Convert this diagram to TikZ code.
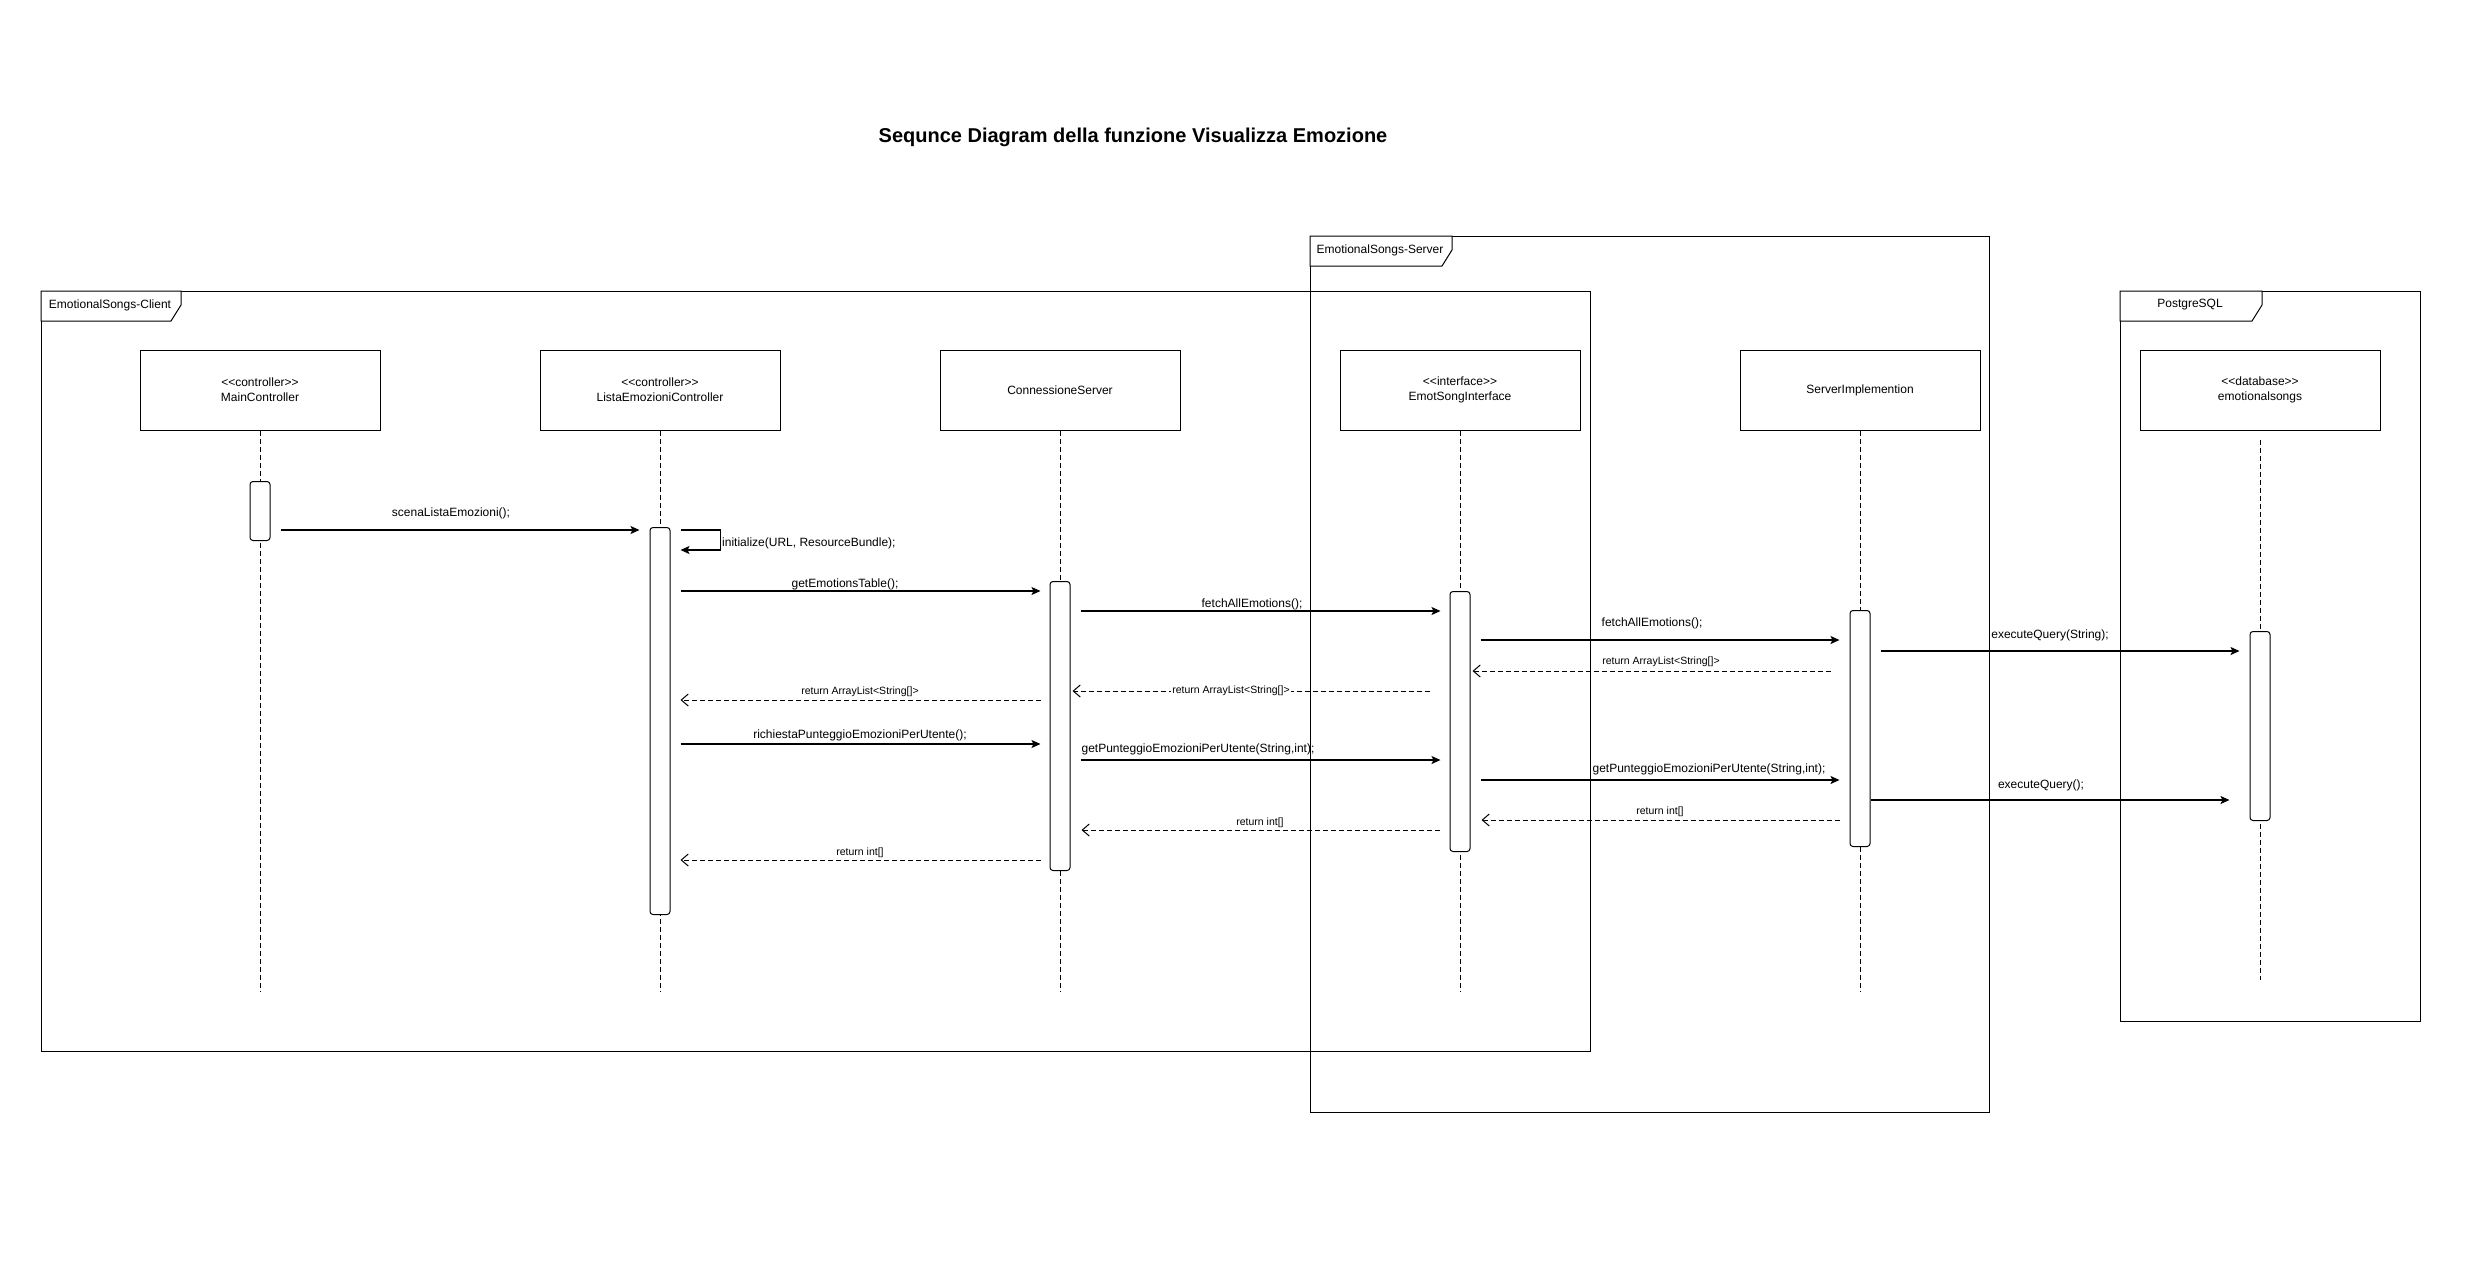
\documentclass[tikz,border=0pt]{standalone}
\usepackage{fontspec}
\setmainfont{Liberation Sans}
\usetikzlibrary{arrows.meta}
\begin{document}
\begin{tikzpicture}[x=1pt,y=-1pt,
  frameline/.style={draw, line width=1pt},
  tabshape/.style={draw, line width=1pt, fill=white},
  framelabel/.style={font=\fontsize{12}{14}\selectfont, inner sep=0pt},
  lifebox/.style={draw, line width=1pt, fill=white, minimum width=240pt, minimum height=80pt,
    align=center, font=\fontsize{12}{15}\selectfont, inner sep=0pt},
  actbox/.style={draw, line width=1pt, rounded corners=3pt, fill=white, minimum width=20pt, inner sep=0pt},
  lifeline/.style={line width=0.8pt, dash pattern=on 5pt off 3pt},
  call/.style={line width=1.1pt, -{Stealth[length=9pt,width=8pt,inset=2pt]}},
  reply/.style={line width=1pt, dash pattern=on 5pt off 3pt, -{Straight Barb[length=7pt,width=12pt]}},
  msg/.style={font=\fontsize{12}{14}\selectfont, inner sep=1pt},
  rmsg/.style={font=\fontsize{10.5}{12}\selectfont, inner sep=1pt},
]
\path[use as bounding box, fill=white] (0,0) rectangle (2466,1286);

% title
\node[font=\bfseries\fontsize{20}{24}\selectfont] (title) at (1133,137)
  {Sequnce Diagram della funzione Visualizza Emozione};

% frames
\draw[frameline] (41,291) rectangle (1590,1051);
\draw[frameline] (1310,236) rectangle (1989,1112);
\draw[frameline] (2120,291) rectangle (2420,1021);
\draw[tabshape] (41,291) -- (181,291) -- (181,305) -- (171,321) -- (41,321) -- cycle;
\draw[tabshape] (1310,236) -- (1452,236) -- (1452,250) -- (1442,266) -- (1310,266) -- cycle;
\draw[tabshape] (2120,291) -- (2262,291) -- (2262,305) -- (2252,321) -- (2120,321) -- cycle;
\node[framelabel] (fclient) at (110,305) {EmotionalSongs-Client};
\node[framelabel] (fserver) at (1380,250) {EmotionalSongs-Server};
\node[framelabel] (fdb) at (2190,305) {PostgreSQL};

% lifeline heads
\node[lifebox] (mc) at (260,390)  {<{}<controller>{}>\\MainController};
\node[lifebox] (lc) at (660,390)  {<{}<controller>{}>\\ListaEmozioniController};
\node[lifebox] (cs) at (1060,390) {ConnessioneServer};
\node[lifebox] (ei) at (1460,390) {<{}<interface>{}>\\EmotSongInterface};
\node[lifebox] (si) at (1860,390) {ServerImplemention};
\node[lifebox] (db) at (2260,390) {<{}<database>{}>\\emotionalsongs};

% lifelines
\coordinate (lend) at (0,991);
\coordinate (dbend) at (0,980);
\draw[lifeline] (mc.south) -- (mc.south |- lend);
\draw[lifeline] (lc.south) -- (lc.south |- lend);
\draw[lifeline] (cs.south) -- (cs.south |- lend);
\draw[lifeline] (ei.south) -- (ei.south |- lend);
\draw[lifeline] (si.south) -- (si.south |- lend);
\draw[lifeline] ([yshift=-9pt]db.south) -- (db.south |- dbend);

% activations
\node[actbox, anchor=north, minimum height=59pt]  (amc) at (260,481) {};
\node[actbox, anchor=north, minimum height=387pt] (alc) at (660,527) {};
\node[actbox, anchor=north, minimum height=289pt] (acs) at (1060,581) {};
\node[actbox, anchor=north, minimum height=260pt] (aei) at (1460,591) {};
\node[actbox, anchor=north, minimum height=236pt] (asi) at (1860,610) {};
\node[actbox, anchor=north, minimum height=189pt] (adb) at (2260,631) {};

% message rows
\coordinate (y1) at (0,530);
\coordinate (y2) at (0,550);
\coordinate (y3) at (0,591);
\coordinate (y4) at (0,611);
\coordinate (y5) at (0,640);
\coordinate (y6) at (0,651);
\coordinate (y7) at (0,671);
\coordinate (y8) at (0,691);
\coordinate (y9) at (0,700);
\coordinate (y10) at (0,744);
\coordinate (y11) at (0,760);
\coordinate (y12) at (0,780);
\coordinate (y13) at (0,800);
\coordinate (y14) at (0,820);
\coordinate (y15) at (0,830);
\coordinate (y16) at (0,860);

% messages
\draw[call] ([xshift=10pt]amc.east |- y1) -- ([xshift=-10pt]alc.west |- y1);
\node[msg] (m1) at (451,513) {scenaListaEmozioni();};

\draw[call] ([xshift=10pt]alc.east |- y1) -- ([xshift=50pt]alc.east |- y1)
  -- ([xshift=50pt]alc.east |- y2) -- ([xshift=10pt]alc.east |- y2);
\node[msg, anchor=west] (m2) at (721,543) {initialize(URL, ResourceBundle);};

\draw[call] ([xshift=10pt]alc.east |- y3) -- ([xshift=-9pt]acs.west |- y3);
\node[msg] (m3) at (845,584) {getEmotionsTable();};

\draw[call] ([xshift=10pt]acs.east |- y4) -- ([xshift=-9pt]aei.west |- y4);
\node[msg] (m4) at (1252,604) {fetchAllEmotions();};

\draw[call] ([xshift=10pt]aei.east |- y5) -- ([xshift=-10pt]asi.west |- y5);
\node[msg] (m5) at (1652,623) {fetchAllEmotions();};

\draw[call] ([xshift=10pt]asi.east |- y6) -- ([xshift=-10pt]adb.west |- y6);
\node[msg] (m6) at (2050,635) {executeQuery(String);};

\draw[reply] ([xshift=-19pt]asi.west |- y7) -- ([xshift=2pt]aei.east |- y7);
\node[rmsg] (m7) at (1661,662) {return ArrayList<String[]>};

\draw[reply] ([xshift=-20pt]aei.west |- y8) -- ([xshift=2pt]acs.east |- y8);
\node[rmsg, fill=white] (m8) at (1231,691) {return ArrayList<String[]>};

\draw[reply] ([xshift=-9pt]acs.west |- y9) -- ([xshift=10pt]alc.east |- y9);
\node[rmsg] (m9) at (860,692) {return ArrayList<String[]>};

\draw[call] ([xshift=10pt]alc.east |- y10) -- ([xshift=-9pt]acs.west |- y10);
\node[msg] (m10) at (860,735) {richiestaPunteggioEmozioniPerUtente();};

\draw[call] ([xshift=10pt]acs.east |- y11) -- ([xshift=-9pt]aei.west |- y11);
\node[msg] (m11) at (1198,749) {getPunteggioEmozioniPerUtente(String,int);};

\draw[call] ([xshift=10pt]aei.east |- y12) -- ([xshift=-10pt]asi.west |- y12);
\node[msg] (m12) at (1709,769) {getPunteggioEmozioniPerUtente(String,int);};

\draw[call] (asi.east |- y13) -- ([xshift=-20pt]adb.west |- y13);
\node[msg] (m13) at (2041,785) {executeQuery();};

\draw[reply] ([xshift=-10pt]asi.west |- y14) -- ([xshift=11pt]aei.east |- y14);
\node[rmsg] (m14) at (1660,812) {return int[]};

\draw[reply] ([xshift=-10pt]aei.west |- y15) -- ([xshift=11pt]acs.east |- y15);
\node[rmsg] (m15) at (1260,823) {return int[]};

\draw[reply] ([xshift=-9pt]acs.west |- y16) -- ([xshift=10pt]alc.east |- y16);
\node[rmsg] (m16) at (860,853) {return int[]};
\end{tikzpicture}
\end{document}
